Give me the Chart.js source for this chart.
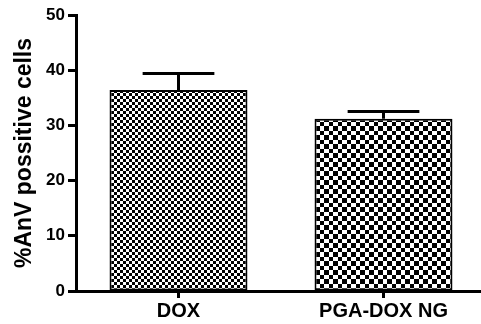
<!DOCTYPE html>
<html>
<head>
<meta charset="utf-8">
<script src="https://cdn.jsdelivr.net/npm/chart.js@4"></script>
<style>
  html, body { margin: 0; padding: 0; background: #fff; overflow: hidden; }
  #wrap { width: 486px; height: 324px; position: relative; }
</style>
</head>
<body>
<div id="wrap"><canvas id="c"></canvas></div>
<script>
// Annexin V positive cells per treatment (mean and error)
const categories = ['DOX', 'PGA-DOX NG'];
const meanValues = [36.4, 31.2];
const errorValues = [3.0, 1.3];
const yTicks = [0, 10, 20, 30, 40, 50];

// Checkerboard fills for the two bars
function checker(a, b) {
  const t = a + b;
  const cv = document.createElement('canvas');
  cv.width = t; cv.height = t;
  const g = cv.getContext('2d');
  g.fillStyle = '#fff';
  g.fillRect(0, 0, t, t);
  g.fillStyle = '#000';
  g.fillRect(0, 0, a, a);
  g.fillRect(a, a, b, b);
  return g.createPattern(cv, 'repeat');
}
const ctx = document.getElementById('c').getContext('2d');
const fills = [checker(3, 3), checker(5, 4)];

// Error bars drawn above each bar through the y scale
const errorBars = {
  id: 'errorBars',
  afterDatasetsDraw(chart) {
    const y = chart.scales.y;
    const meta = chart.getDatasetMeta(0);
    const c = chart.ctx;
    c.save();
    c.strokeStyle = '#000';
    c.lineWidth = 3;
    c.lineCap = 'butt';
    meta.data.forEach((bar, i) => {
      const yTop = y.getPixelForValue(meanValues[i] + errorValues[i]);
      const yBase = y.getPixelForValue(meanValues[i]);
      const half = bar.width * 0.26;
      c.beginPath();
      c.moveTo(bar.x, yBase);
      c.lineTo(bar.x, yTop);
      c.moveTo(bar.x - half, yTop);
      c.lineTo(bar.x + half, yTop);
      c.stroke();
    });
    c.restore();
  }
};

new Chart(ctx, {
  type: 'bar',
  data: {
    labels: categories,
    datasets: [{
      data: meanValues,
      backgroundColor: fills,
      borderColor: '#000',
      borderWidth: 2,
      borderSkipped: false,
      barPercentage: 0.673,
      categoryPercentage: 1.0
    }]
  },
  options: {
    responsive: true,
    maintainAspectRatio: false,
    animation: false,
    layout: { padding: { top: 15, right: 0, left: 0, bottom: 0 } },
    plugins: { legend: { display: false }, tooltip: { enabled: false } },
    scales: {
      x: {
        grid: { display: true, offset: false, drawOnChartArea: false, drawTicks: true, tickLength: 7, tickWidth: 3, tickColor: '#000' },
        border: { display: true, color: '#000', width: 3 },
        ticks: { color: '#000', padding: 1, font: { family: 'Liberation Sans, Arial, sans-serif', size: 20, weight: 'bold' } }
      },
      y: {
        min: 0,
        max: 50,
        afterBuildTicks(scale) { scale.ticks = yTicks.map(v => ({ value: v })); },
        afterFit(scale) { scale.width = 76; },
        grid: { display: true, drawOnChartArea: false, drawTicks: true, tickLength: 8, tickWidth: 3, tickColor: '#000' },
        border: { display: true, color: '#000', width: 3 },
        ticks: { color: '#000', padding: 3, font: { family: 'Liberation Sans, Arial, sans-serif', size: 17, weight: 'bold' } },
        title: {
          display: true,
          text: '%AnV possitive cells',
          color: '#000',
          padding: { top: 11, bottom: 0 },
          font: { family: 'Liberation Sans, Arial, sans-serif', size: 23, weight: 'bold' }
        }
      }
    }
  },
  plugins: [errorBars]
});
</script>
</body>
</html>
